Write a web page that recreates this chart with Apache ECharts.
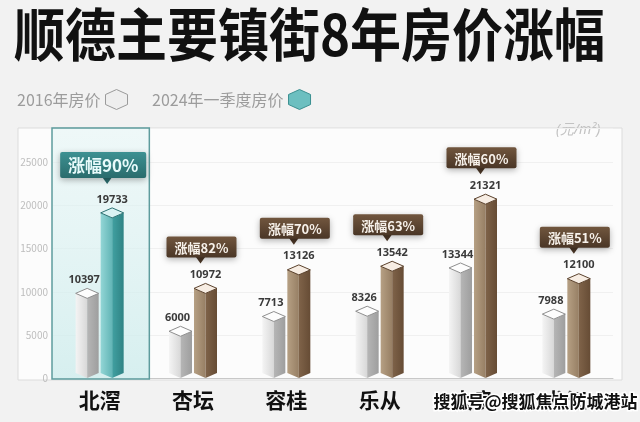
<!DOCTYPE html>
<html>
<head>
<meta charset="utf-8">
<script src="https://cdn.jsdelivr.net/npm/echarts@6/dist/echarts.min.js"></script>
<style>
html, body { margin: 0; padding: 0; background: #f2f2f2; }
#main { width: 640px; height: 422px; }
</style>
</head>
<body>
<div id="main"></div>
<script>
// 顺德主要镇街8年房价涨幅
var towns = ['北滘', '杏坛', '容桂', '乐从', '大良', '龙江'];
var price2016 = [10397, 6000, 7713, 8326, 13344, 7988];
var price2024 = [19733, 10972, 13126, 13542, 21321, 12100];
var growth = [90, 82, 70, 63, 60, 51];

var CJK = '"Noto Sans CJK SC", sans-serif';
var HALF = 11.5, DEPTH = 5, SHIFT = 12.5;

function grad(c1, c2) {
    return { type: 'linear', x: 0, y: 0, x2: 1, y2: 0,
        colorStops: [{ offset: 0, color: c1 }, { offset: 1, color: c2 }] };
}
var oldFace = { left: grad('#f4f4f4', '#d8d8d8'), right: grad('#b6b6b6', '#9e9e9e'), top: '#fdfdfd', edge: '#8f8f8f' };
var tealFace = { left: grad('#93d6d6', '#62b5b6'), right: grad('#41a0a1', '#2f8384'), top: '#daf3f3', edge: '#2b7172' };
var brownFace = { left: grad('#b6a084', '#977f64'), right: grad('#7f6349', '#664c35'), top: '#f7ede3', edge: '#5a412c' };

// square prism seen from above: two side faces and a diamond top
function prism(cx, top, base, c) {
    var w = HALF, d = DEPTH, ty = top + d, by = base - d;
    return [
        { type: 'polygon', shape: { points: [[cx - w, ty], [cx, ty + d], [cx, by + d], [cx - w, by]] }, style: { fill: c.left } },
        { type: 'polygon', shape: { points: [[cx, ty + d], [cx + w, ty], [cx + w, by], [cx, by + d]] }, style: { fill: c.right } },
        { type: 'polygon', shape: { points: [[cx - w, ty], [cx, ty - d], [cx + w, ty], [cx, ty + d]] }, style: { fill: c.top, stroke: c.edge, lineWidth: 1 } }
    ];
}

function valueText(cx, top, v) {
    return { type: 'text', x: cx, y: top - 3,
        style: { text: String(v), textAlign: 'center', textVerticalAlign: 'bottom', fill: '#3a3a3a', font: 'bold 11px "Noto Sans", sans-serif' } };
}

function renderOld(params, api) {
    var i = api.value(0), v = api.value(1);
    var p = api.coord([i, v]), p0 = api.coord([i, 0]);
    var cx = p[0] - SHIFT;
    var kids = prism(cx, p[1], p0[1], oldFace);
    kids.push(valueText(cx - 3, p[1], v));
    return { type: 'group', children: kids };
}

function renderNew(params, api) {
    var i = api.value(0), v = api.value(1), g = api.value(2);
    var p = api.coord([i, v]), p0 = api.coord([i, 0]);
    var cx = p[0] + SHIFT;
    var hot = i === 0;
    var kids = [];
    if (hot) {
        var band = api.size([1, 0])[0];
        var cs = params.coordSys;
        kids.push({ type: 'rect',
            shape: { x: p[0] - band / 2 - 1, y: cs.y, width: band + 4, height: p0[1] - cs.y + 1 },
            style: { fill: { type: 'linear', x: 0, y: 0, x2: 0, y2: 1,
                colorStops: [{ offset: 0, color: 'rgba(225,244,244,0.5)' }, { offset: 1, color: 'rgba(205,236,236,0.8)' }] },
                stroke: '#5e9c9d', lineWidth: 1.5 } });
    }
    kids = kids.concat(prism(cx, p[1], p0[1], hot ? tealFace : brownFace));
    kids.push(valueText(cx, p[1], v));
    var tipY = p[1] - 3 - 11 - (hot ? 10 : 6);
    var bw = hot ? 86 : 70, bh = hot ? 26 : 21;
    var bx = cx - (hot ? 9 : 4) - bw / 2;
    var bTop = tipY - 6 - bh;
    var px = cx - 5;
    var fill = hot
        ? { type: 'linear', x: 0, y: 0, x2: 0, y2: 1, colorStops: [{ offset: 0, color: '#3d9192' }, { offset: 1, color: '#2a6c6d' }] }
        : { type: 'linear', x: 0, y: 0, x2: 0, y2: 1, colorStops: [{ offset: 0, color: '#71563e' }, { offset: 1, color: '#4a3626' }] };
    kids.push({ type: 'polygon', shape: { points: [[px - 5, tipY - 7], [px + 5, tipY - 7], [px, tipY]] },
        style: { fill: hot ? '#2a6c6d' : '#4a3626' } });
    kids.push({ type: 'rect', shape: { x: bx, y: bTop, width: bw, height: bh, r: 2 },
        style: { fill: fill, shadowBlur: 6, shadowColor: 'rgba(0,0,0,0.3)', shadowOffsetY: 2 } });
    kids.push({ type: 'text', x: bx + bw / 2, y: bTop + bh / 2 + 1,
        style: { text: '涨幅' + g + '%', textAlign: 'center', textVerticalAlign: 'middle',
            fill: hot ? '#e8fbfb' : '#f7f1ea', font: (hot ? 'bold 17px ' : 'bold 13px ') + CJK } });
    return { type: 'group', children: kids };
}

var oldData = towns.map(function (t, i) { return [i, price2016[i]]; });
var newData = towns.map(function (t, i) { return [i, price2024[i], growth[i]]; });

var cube = 'path://M11,0 L22,5 L22,15 L11,20 L0,15 L0,5 Z';

var chart = echarts.init(document.getElementById('main'));
chart.setOption({
    backgroundColor: '#f2f2f2',
    textStyle: { fontFamily: CJK },
    graphic: [
        { type: 'rect', z: -10, shape: { x: 18, y: 128, width: 604, height: 252 },
            style: { fill: '#fcfcfc', stroke: '#dcdcdc', lineWidth: 1 } },
        { type: 'text', left: 14, top: 6, scaleY: 1.12,
            style: { text: '顺德主要镇街8年房价涨幅', fill: '#111', font: 'bold 51px ' + CJK } },
        { type: 'text', left: 556, top: 123,
            style: { text: '(元/m²)', fill: '#c2c2c2', font: 'italic 14px "Noto Sans", sans-serif' } },
        { type: 'text', left: 432, top: 392, z: 100,
            style: { text: '搜狐号@搜狐焦点防城港站', fill: '#111', stroke: '#fff', lineWidth: 3, font: 'bold 17px ' + CJK } }
    ],
    legend: {
        left: 12, top: 84, align: 'right', itemGap: 24, itemWidth: 22, itemHeight: 20,
        textStyle: { color: '#9c9c9c', fontSize: 16 },
        data: [
            { name: '2016年房价', icon: cube, itemStyle: { color: '#eeeeee', borderColor: '#9a9a9a', borderWidth: 1 } },
            { name: '2024年一季度房价', icon: cube, itemStyle: { color: '#6cbfc0', borderColor: '#3a8f90', borderWidth: 1 } }
        ]
    },
    grid: { left: 53, right: 27, top: 128, bottom: 44 },
    xAxis: {
        type: 'category',
        data: towns,
        axisTick: { show: false },
        axisLine: { lineStyle: { color: '#c8c8c8' } },
        axisLabel: { color: '#111', fontSize: 21, fontWeight: 'bold', margin: 12 }
    },
    yAxis: {
        type: 'value',
        min: 0,
        max: 29000,
        interval: 5000,
        axisLabel: { color: '#bdbdbd', fontSize: 10, margin: 5, showMaxLabel: false,
            formatter: function (v) { return String(v); } },
        splitLine: { lineStyle: { color: '#f0f0f0' } },
        axisLine: { show: false },
        axisTick: { show: false }
    },
    series: [
        { name: '2016年房价', type: 'custom', renderItem: renderOld, data: oldData,
            encode: { x: 0, y: 1 }, itemStyle: { color: '#eeeeee' }, z: 3 },
        { name: '2024年一季度房价', type: 'custom', renderItem: renderNew, data: newData,
            encode: { x: 0, y: 1 }, itemStyle: { color: '#6cbfc0' }, z: 2 }
    ]
});
</script>
</body>
</html>
